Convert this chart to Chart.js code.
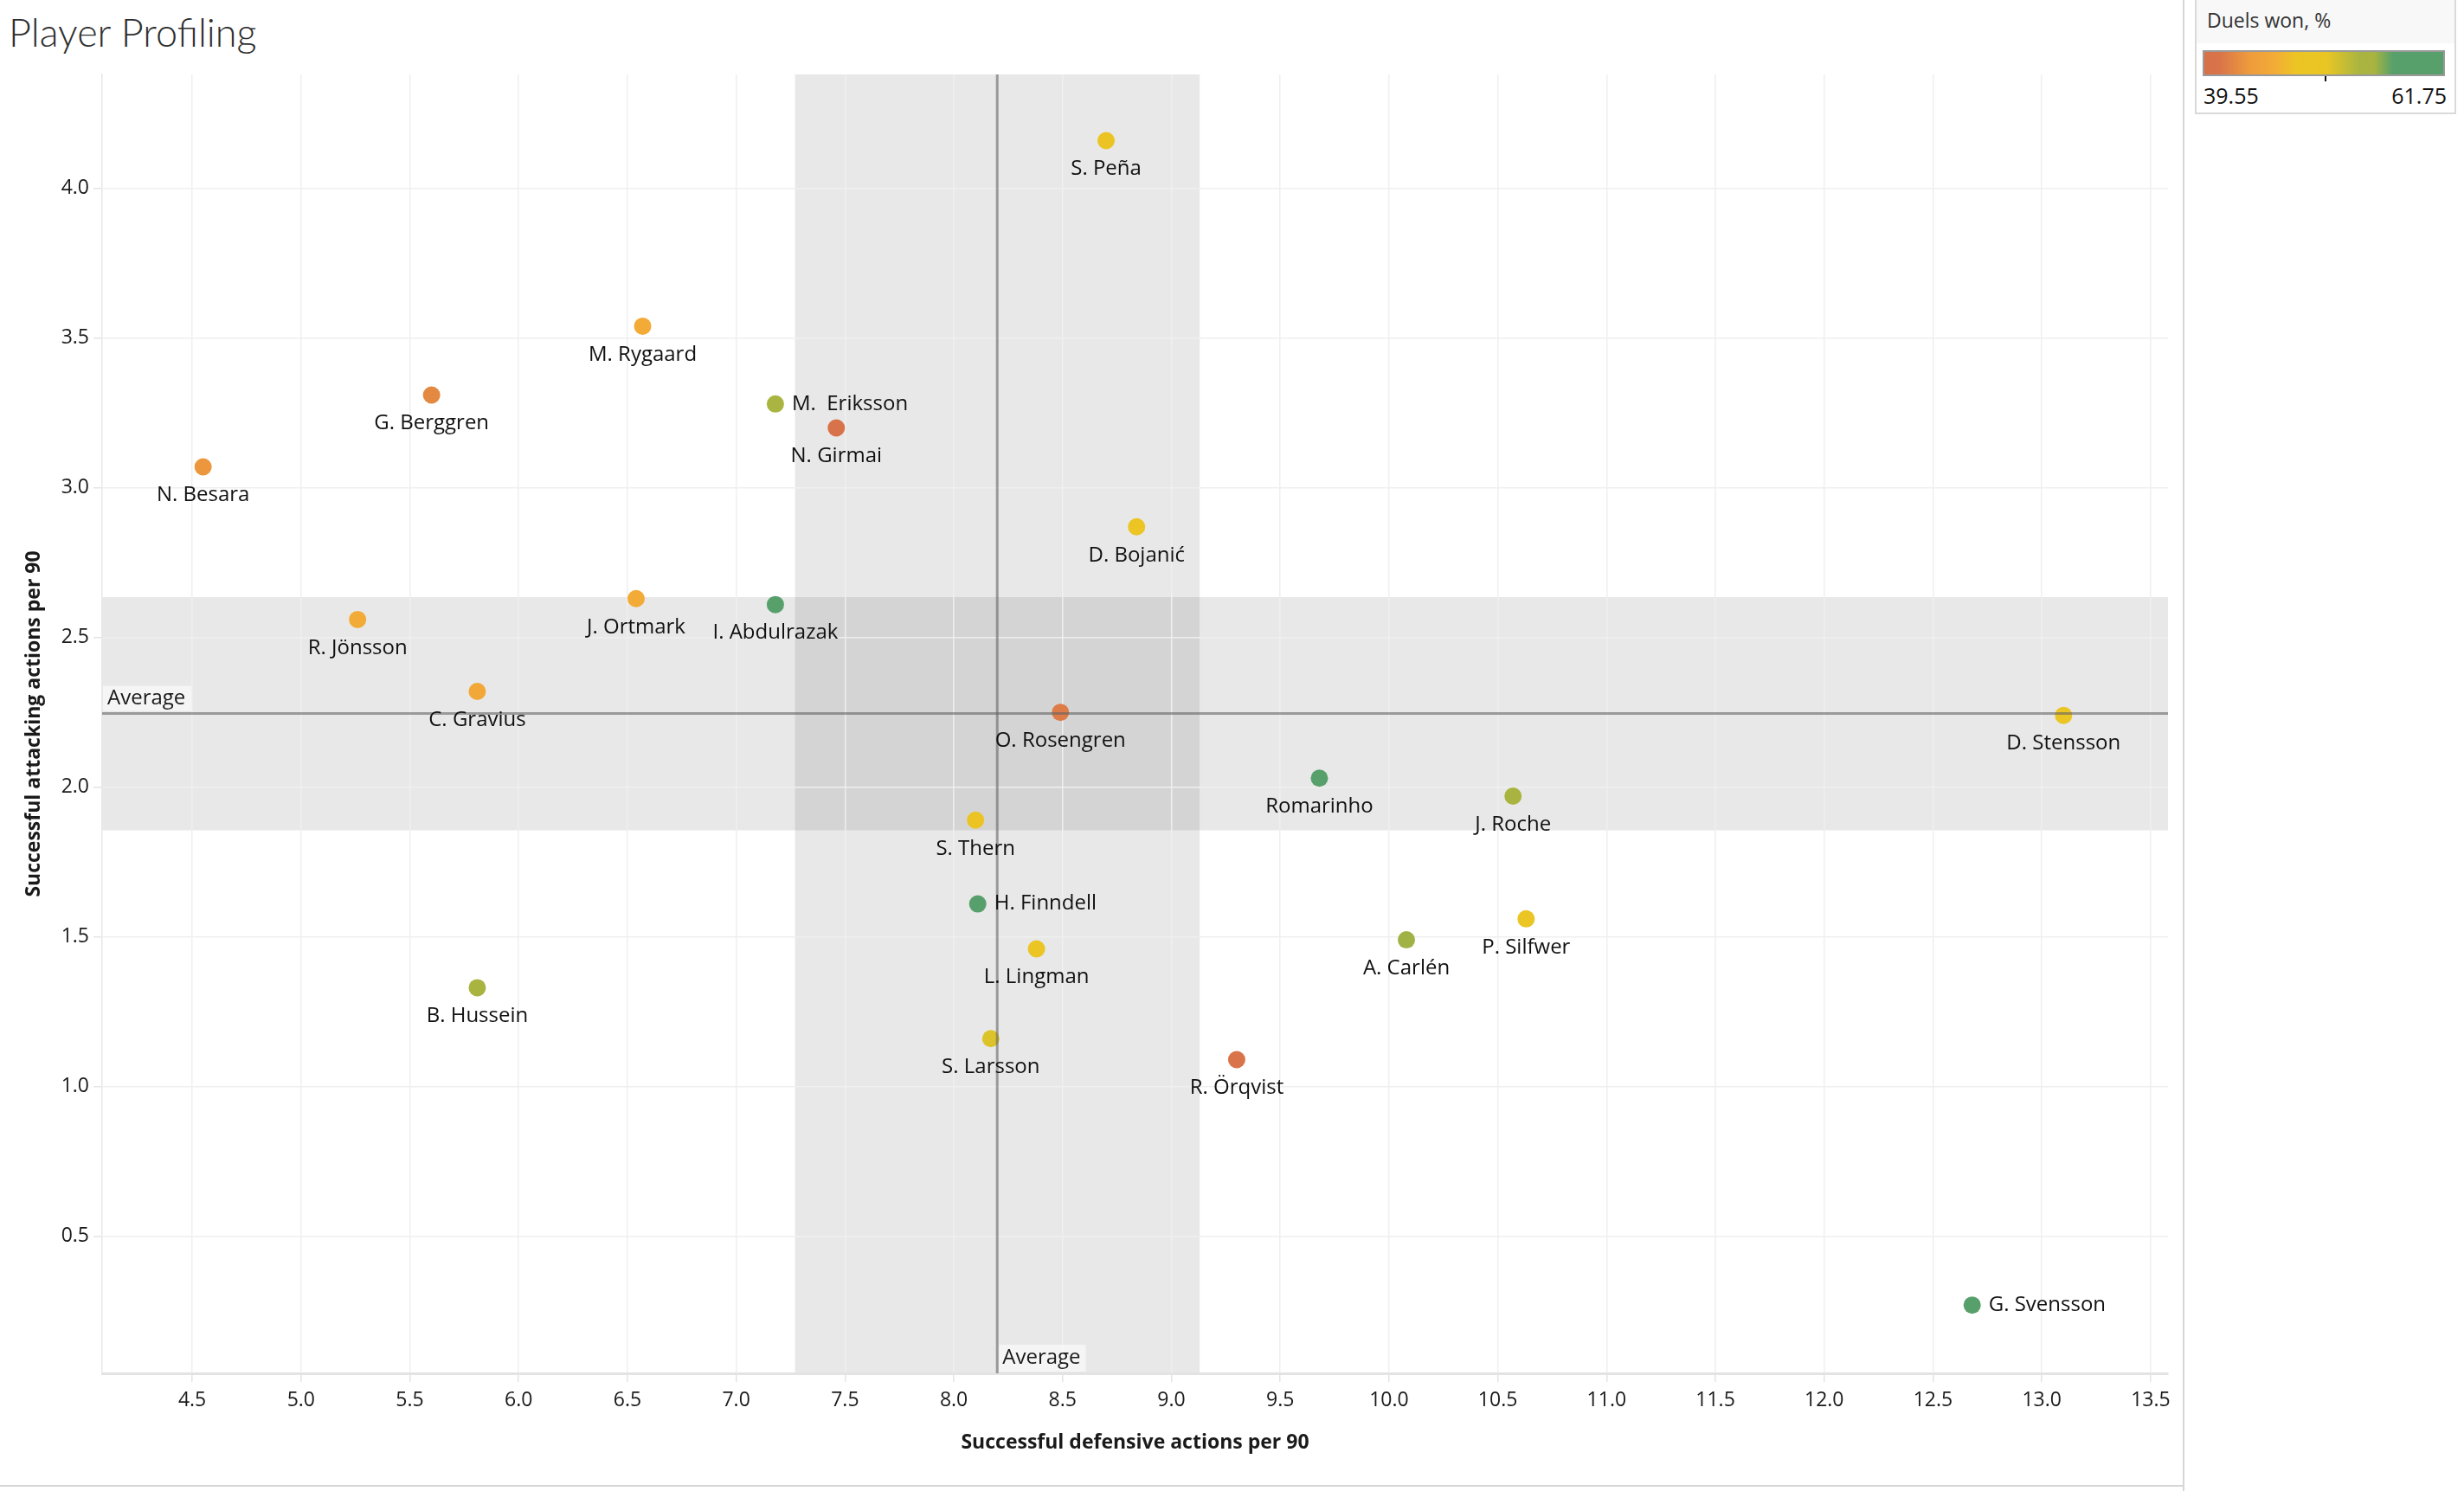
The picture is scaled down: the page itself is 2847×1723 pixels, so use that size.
<!DOCTYPE html>
<html>
<head>
<meta charset="utf-8">
<script src="https://cdn.jsdelivr.net/npm/chart.js@4/dist/chart.umd.min.js"></script>
<style>
html,body{margin:0;padding:0;background:#fff;width:2847px;height:1723px;overflow:hidden;}
#title{position:absolute;left:10px;top:10px;font-family:Lato,'Open Sans',sans-serif;font-weight:300;font-size:45px;color:#2e2e2e;white-space:nowrap;}
#wrap{position:absolute;left:0;top:0;width:2522px;height:1716px;}
#vline{position:absolute;left:2522px;top:0;width:2px;height:1723px;background:#d6d6d6;}
#hline{position:absolute;left:0;top:1716px;width:2522px;height:2px;background:#d6d6d6;}
#legend{position:absolute;left:2536px;top:-2px;width:298px;height:130px;border:2px solid #d9d9d9;background:#fff;}
#legHead{height:50px;background:#f8f8f8;font-family:'Open Sans',sans-serif;font-size:23px;color:#333;line-height:46px;padding-left:12px;}
#bar{position:absolute;left:7px;top:58px;width:276px;height:26px;border:2px solid #9a9a9a;}
#barTick{position:absolute;left:148px;top:88px;width:2px;height:6px;background:#111;}
#legMin{position:absolute;left:8px;top:93px;font-family:'Open Sans',sans-serif;font-size:25px;color:#111;}
#legMax{position:absolute;right:9px;top:93px;font-family:'Open Sans',sans-serif;font-size:25px;color:#111;}
</style>
</head>
<body>
<div id="title">Player Profiling</div>
<div id="wrap"><canvas id="c"></canvas></div>
<div id="vline"></div>
<div id="hline"></div>
<div id="legend">
  <div id="legHead">Duels won, %</div>
  <div id="bar"></div>
  <div id="barTick"></div>
  <div id="legMin"></div>
  <div id="legMax"></div>
</div>
<script>
// ---------------- data ----------------
const players = ['S. Peña','M. Rygaard','G. Berggren','M.  Eriksson','N. Girmai','N. Besara','D. Bojanić','R. Jönsson','J. Ortmark','I. Abdulrazak','C. Gravius','O. Rosengren','D. Stensson','Romarinho','J. Roche','S. Thern','H. Finndell','P. Silfwer','A. Carlén','L. Lingman','B. Hussein','S. Larsson','R. Örqvist','G. Svensson'];
const defActions = [8.70,6.57,5.60,7.18,7.46,4.55,8.84,5.26,6.54,7.18,5.81,8.49,13.10,9.68,10.57,8.10,8.11,10.63,10.08,8.38,5.81,8.17,9.30,12.68];
const attActions = [4.16,3.54,3.31,3.28,3.20,3.07,2.87,2.56,2.63,2.61,2.32,2.25,2.24,2.03,1.97,1.89,1.61,1.56,1.49,1.46,1.33,1.16,1.09,0.27];
const duelsWon   = [48.5,46.0,42.5,54.0,40.0,43.5,48.0,46.0,46.0,61.0,45.5,41.5,49.5,61.0,55.0,48.5,60.0,50.0,55.5,49.5,55.0,51.5,40.8,61.75];
const rightLabeled = ['M.  Eriksson','H. Finndell','G. Svensson'];
const xTickValues = [4.5,5.0,5.5,6.0,6.5,7.0,7.5,8.0,8.5,9.0,9.5,10.0,10.5,11.0,11.5,12.0,12.5,13.0,13.5];
const yTickValues = [0.5,1.0,1.5,2.0,2.5,3.0,3.5,4.0];
const defBand = [7.27, 9.13];
const attBand = [1.856, 2.635];
const duelsRange = [39.55, 61.75];
const xRange = [4.086, 13.58];
const yRange = [0.042, 4.381];
const xTitle = 'Successful defensive actions per 90';
const yTitle = 'Successful attacking actions per 90';
const avgLabel = 'Average';

// ---------------- palette ----------------
const palette = [[0,'#d8714a'],[0.06,'#d8734a'],[0.19,'#ee9b3c'],[0.30,'#f3ad36'],[0.38,'#ecc424'],[0.51,'#e9c624'],[0.65,'#a9b540'],[0.71,'#a9b440'],[0.79,'#57a06b'],[1,'#57a06b']];
function hex2rgb(h){return [parseInt(h.slice(1,3),16),parseInt(h.slice(3,5),16),parseInt(h.slice(5,7),16)];}
function colorFor(v){
  const f = Math.max(0,Math.min(1,(v-duelsRange[0])/(duelsRange[1]-duelsRange[0])));
  for(let i=1;i<palette.length;i++){
    if(f<=palette[i][0]){
      const [f0,c0]=palette[i-1],[f1,c1]=palette[i];
      const t=(f-f0)/((f1-f0)||1);
      const a=hex2rgb(c0),b=hex2rgb(c1);
      return 'rgb('+a.map((x,k)=>Math.round(x+(b[k]-x)*t)).join(',')+')';
    }
  }
  return palette[palette.length-1][1];
}
document.getElementById('bar').style.background='linear-gradient(to right,'+palette.map(p=>p[1]+' '+(p[0]*100)+'%').join(',')+')';
document.getElementById('legMin').textContent=duelsRange[0].toFixed(2);
document.getElementById('legMax').textContent=duelsRange[1].toFixed(2);

const mean = a => a.reduce((s,v)=>s+v,0)/a.length;
const avgDef = mean(defActions);
const avgAtt = mean(attActions);

const overlay = {
  id:'overlay',
  beforeDraw(chart){
    const {ctx, chartArea:a, scales:{x,y}} = chart;
    ctx.save();
    ctx.beginPath(); ctx.rect(a.left,a.top,a.right-a.left,a.bottom-a.top); ctx.clip();
    ctx.fillStyle='rgba(0,0,0,0.09)';
    const x1=x.getPixelForValue(defBand[0]), x2=x.getPixelForValue(defBand[1]);
    ctx.fillRect(x1,a.top,x2-x1,a.bottom-a.top);
    const y1=y.getPixelForValue(attBand[1]), y2=y.getPixelForValue(attBand[0]);
    ctx.fillRect(a.left,y1,a.right-a.left,y2-y1);
    ctx.restore();
  },
  afterDatasetsDraw(chart){
    const {ctx, chartArea:a, scales:{x,y}} = chart;
    ctx.save();
    // average lines
    ctx.strokeStyle='rgba(100,100,100,0.6)';
    ctx.lineWidth=3;
    const ax=x.getPixelForValue(avgDef), ay=y.getPixelForValue(avgAtt);
    ctx.beginPath(); ctx.moveTo(ax,a.top); ctx.lineTo(ax,a.bottom); ctx.stroke();
    ctx.beginPath(); ctx.moveTo(a.left,ay); ctx.lineTo(a.right,ay); ctx.stroke();
    // average labels
    ctx.font='24px "Open Sans"';
    ctx.textBaseline='middle';
    ctx.textAlign='left';
    const w=ctx.measureText(avgLabel).width;
    ctx.fillStyle='rgba(255,255,255,0.55)';
    ctx.fillRect(a.left+1,ay-32,w+12,29);
    ctx.fillRect(ax+2,a.bottom-33,w+10,31);
    ctx.fillStyle='#1a1a1a';
    ctx.fillText(avgLabel,a.left+6,ay-17);
    ctx.fillText(avgLabel,ax+6,a.bottom-18);
    // point labels
    ctx.font='24px "Open Sans"';
    ctx.fillStyle='#111';
    players.forEach((p,i)=>{
      const px=x.getPixelForValue(defActions[i]), py=y.getPixelForValue(attActions[i]);
      if(rightLabeled.includes(p)){
        ctx.textAlign='left'; ctx.fillText(p,px+19,py);
      } else {
        ctx.textAlign='center'; ctx.fillText(p,px,py+33);
      }
    });
    ctx.restore();
  }
};

new Chart(document.getElementById('c'),{
  type:'scatter',
  data:{datasets:[{
    data: players.map((p,i)=>({x:defActions[i],y:attActions[i]})),
    pointRadius:10, pointHoverRadius:10, pointBorderWidth:0,
    pointBackgroundColor: duelsWon.map(colorFor)
  }]},
  options:{
    responsive:true, maintainAspectRatio:false, animation:false,
    layout:{padding:{top:86,left:0,right:17,bottom:0}},
    plugins:{legend:{display:false},tooltip:{enabled:false}},
    scales:{
      x:{
        type:'linear', min:xRange[0], max:xRange[1],
        afterBuildTicks(s){s.ticks=xTickValues.map(v=>({value:v}));},
        afterFit(s){s.height=129;},
        grid:{color:'#efefef',lineWidth:1.5,tickLength:10,tickColor:'#e4e4e4'},
        border:{color:'#e3e3e3',width:3},
        ticks:{font:{family:'Open Sans',size:23},color:'#1a1a1a',padding:8,maxRotation:0,autoSkip:false,callback:v=>Number(v).toFixed(1)},
        title:{display:true,text:xTitle,font:{family:'Open Sans',size:23,weight:'bold'},color:'#1a1a1a',padding:{bottom:35}}
      },
      y:{
        type:'linear', min:yRange[0], max:yRange[1],
        afterBuildTicks(s){s.ticks=yTickValues.map(v=>({value:v}));},
        afterFit(s){s.width=118;},
        grid:{color:'#efefef',lineWidth:1.5,tickLength:10,tickColor:'#e4e4e4'},
        border:{color:'#e8e8e8',width:1.5},
        ticks:{font:{family:'Open Sans',size:23},color:'#1a1a1a',padding:5,autoSkip:false,callback:v=>Number(v).toFixed(1)},
        title:{display:true,text:yTitle,font:{family:'Open Sans',size:23,weight:'bold'},color:'#1a1a1a',padding:{top:26}}
      }
    }
  },
  plugins:[overlay]
});
</script>
</body>
</html>
